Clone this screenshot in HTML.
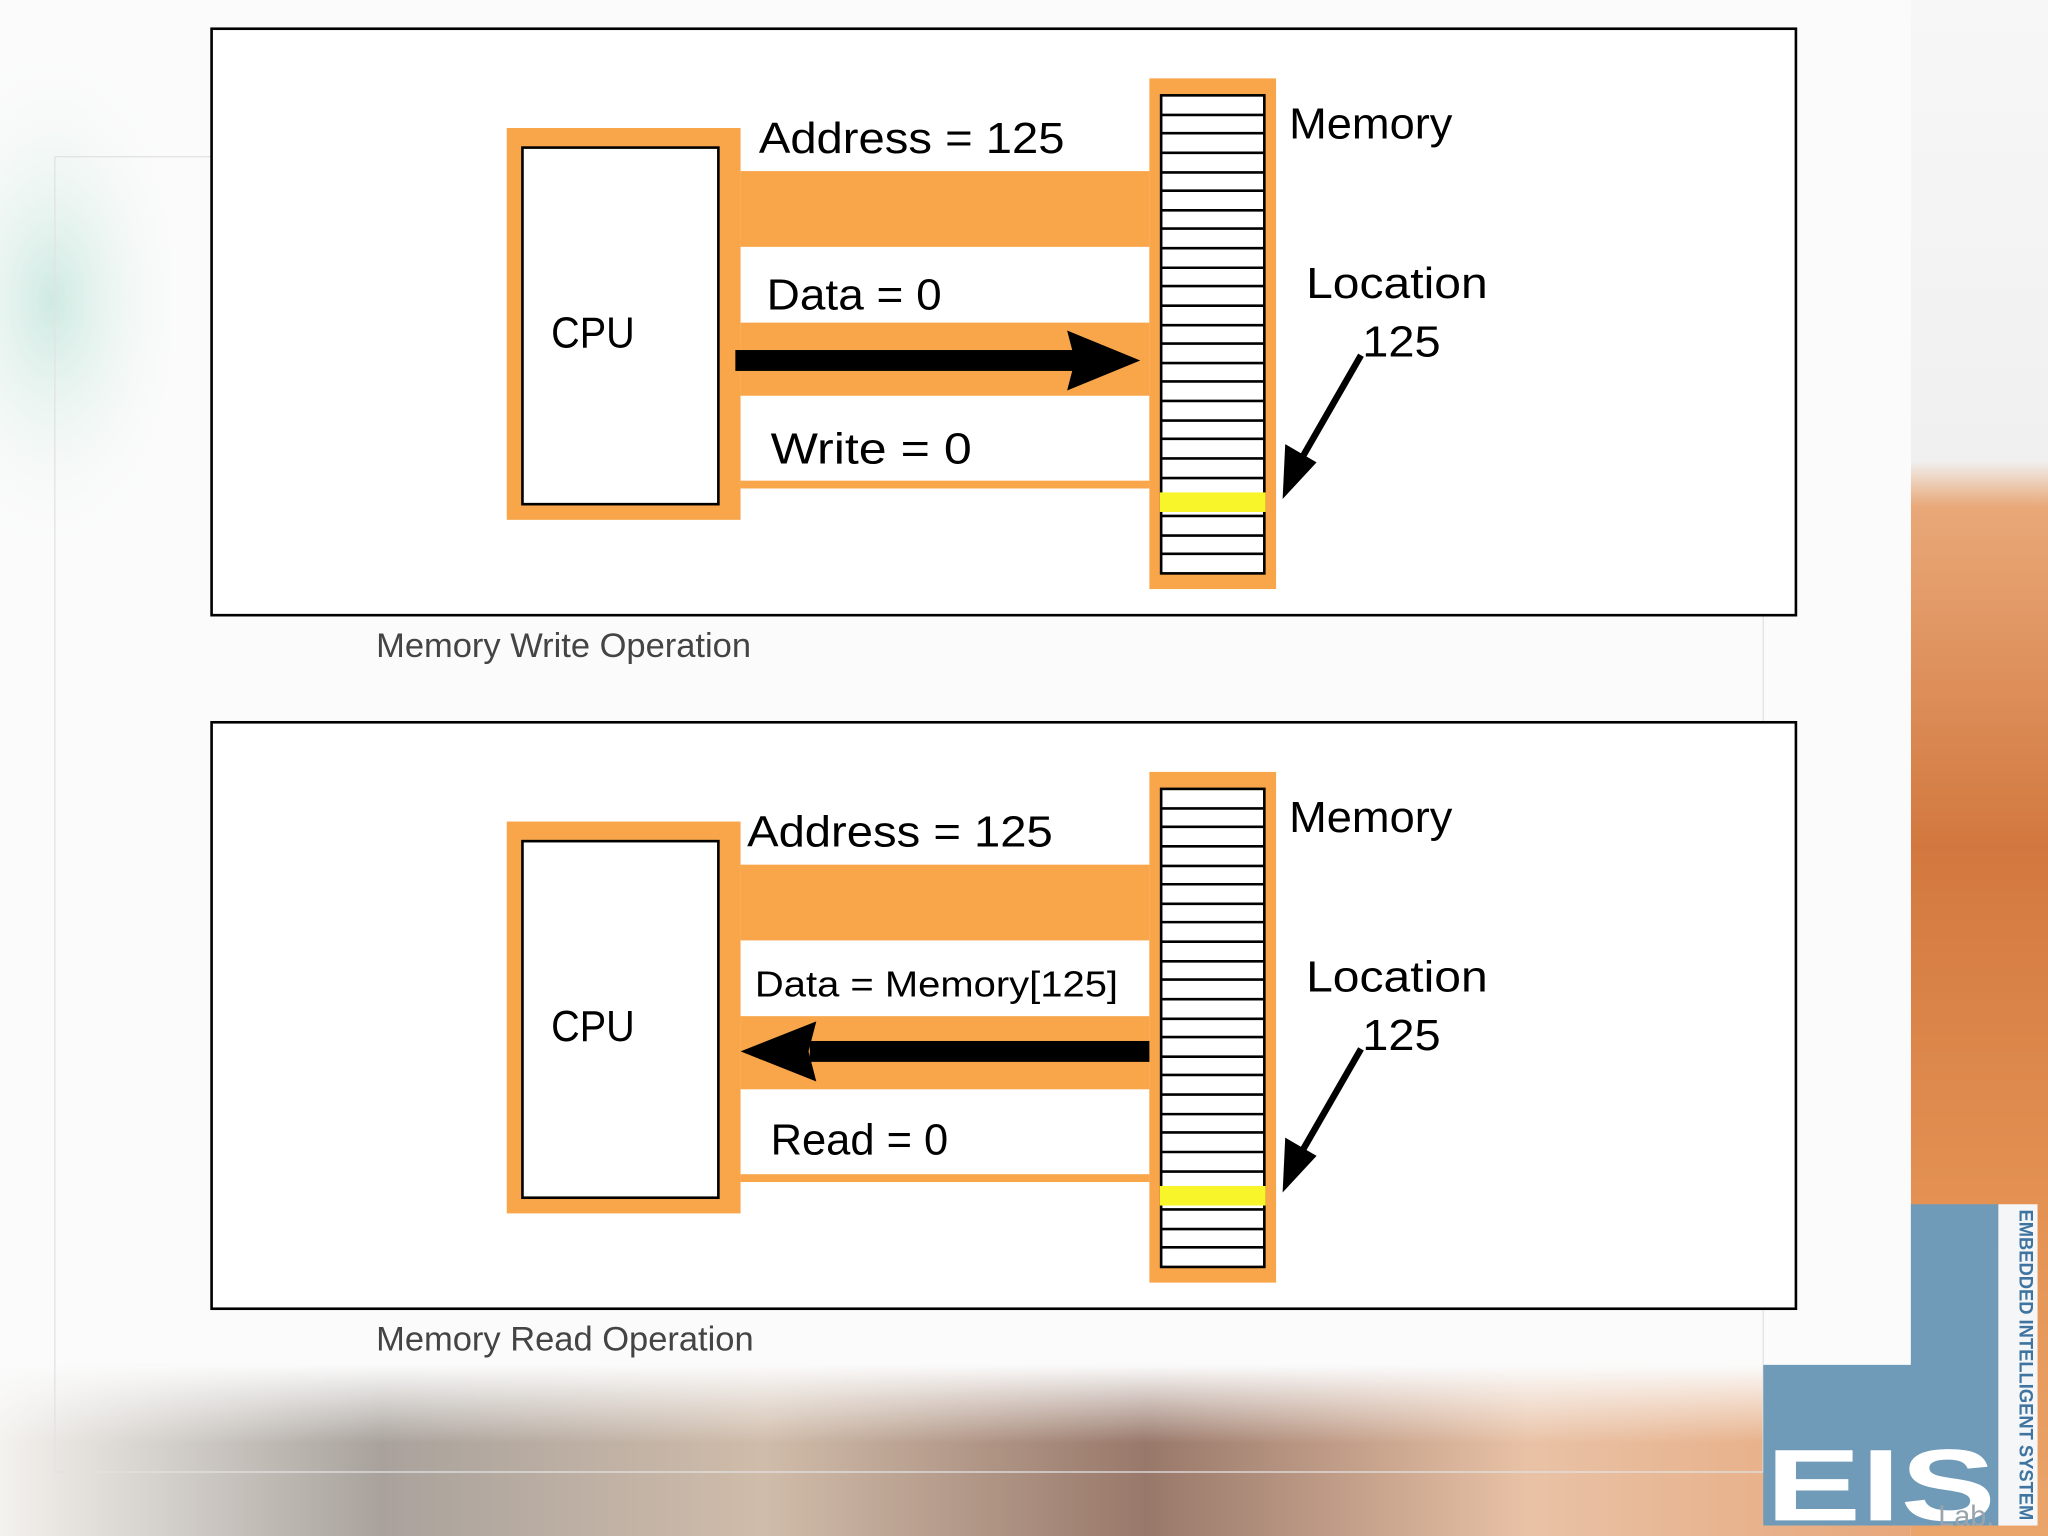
<!DOCTYPE html>
<html><head><meta charset="utf-8"><style>
html,body{margin:0;padding:0;background:#fbfbfb;}
svg{display:block;}
text{font-family:"Liberation Sans","DejaVu Sans",sans-serif;}
</style></head><body>
<svg width="2048" height="1536" viewBox="0 0 1568 1176" xmlns="http://www.w3.org/2000/svg">
<defs>
<radialGradient id="teal" cx="0.5" cy="0.5" r="0.5">
<stop offset="0" stop-color="#c9e8df" stop-opacity="0.9"/><stop offset="1" stop-color="#fbfbfb" stop-opacity="0"/></radialGradient>
<linearGradient id="rightg" x1="0" y1="0" x2="0" y2="1">
<stop offset="0" stop-color="#f7f7f7"/><stop offset="0.3" stop-color="#f0f0f0"/><stop offset="0.33" stop-color="#e9a878"/><stop offset="0.55" stop-color="#d2783f"/><stop offset="0.8" stop-color="#e59355"/><stop offset="1" stop-color="#eaa56b"/></linearGradient>
<linearGradient id="botg" x1="0" y1="0" x2="1" y2="0">
<stop offset="0" stop-color="#f4f2ee"/><stop offset="0.2" stop-color="#a9a29c"/><stop offset="0.4" stop-color="#d0bcaa"/><stop offset="0.6" stop-color="#98786a"/><stop offset="0.8" stop-color="#e9c2a6"/><stop offset="1" stop-color="#e7a77a"/></linearGradient>
<linearGradient id="botv" x1="0" y1="0" x2="0" y2="1">
<stop offset="0" stop-color="#fbfbfb" stop-opacity="1"/><stop offset="1" stop-color="#fbfbfb" stop-opacity="0"/></linearGradient>
</defs>
<rect width="1568" height="1176" fill="#fbfbfb"/>
<ellipse cx="40" cy="230" rx="110" ry="200" fill="url(#teal)"/>
<rect x="1463" y="0" width="105" height="1176" fill="url(#rightg)"/>
<rect x="0" y="1045" width="1463" height="131" fill="url(#botg)"/>
<rect x="0" y="1045" width="1463" height="60" fill="url(#botv)"/>
<rect x="130" y="0" width="1333" height="1045" fill="#fbfbfb"/>
<rect x="42" y="120" width="1308" height="1007" fill="none" stroke="#e2e2e2" stroke-width="1"/>

<!-- Logo -->
<path d="M1463 922 H1530 V1168 H1350 V1045 H1463 Z" fill="#6f9bb8"/>
<rect x="1530" y="922" width="30" height="246" fill="#f4f6f8"/>
<text transform="translate(1546,926) rotate(90)" font-size="15" font-weight="bold" fill="#3f74a0" textLength="238" lengthAdjust="spacingAndGlyphs">EMBEDDED INTELLIGENT SYSTEM</text>
<text x="1352" y="1164" font-size="78" font-weight="bold" fill="#ffffff" textLength="176" lengthAdjust="spacingAndGlyphs">EIS</text>
<text x="1484" y="1168" font-size="22" fill="#9aa4ac" font-family="Liberation Serif">Lab.</text>

<g id="d1">
<rect x="162" y="22" width="1213" height="449" fill="#fff" stroke="#000" stroke-width="2"/>
<rect x="388" y="98" width="179" height="300" fill="#f9a64b"/>
<rect x="400" y="113" width="150" height="273" fill="#fff" stroke="#000" stroke-width="2"/>
<text x="422" y="266" font-size="33" textLength="64" lengthAdjust="spacingAndGlyphs">CPU</text>
<rect x="567" y="131" width="313" height="243" fill="#f9a64b"/>
<rect x="567" y="189" width="313" height="58" fill="#fff"/>
<rect x="567" y="303" width="313" height="65" fill="#fff"/>
<rect x="880" y="60" width="97" height="391" fill="#f9a64b"/>
<rect x="889" y="73" width="79" height="366" fill="#fff" stroke="#000" stroke-width="2"/>
<g stroke="#000" stroke-width="2">
<line x1="889" y1="88" x2="968" y2="88"/><line x1="889" y1="102" x2="968" y2="102"/><line x1="889" y1="117" x2="968" y2="117"/><line x1="889" y1="132" x2="968" y2="132"/><line x1="889" y1="146" x2="968" y2="146"/><line x1="889" y1="161" x2="968" y2="161"/><line x1="889" y1="175" x2="968" y2="175"/><line x1="889" y1="190" x2="968" y2="190"/><line x1="889" y1="205" x2="968" y2="205"/><line x1="889" y1="219" x2="968" y2="219"/><line x1="889" y1="234" x2="968" y2="234"/><line x1="889" y1="249" x2="968" y2="249"/><line x1="889" y1="263" x2="968" y2="263"/><line x1="889" y1="278" x2="968" y2="278"/><line x1="889" y1="292" x2="968" y2="292"/><line x1="889" y1="307" x2="968" y2="307"/><line x1="889" y1="322" x2="968" y2="322"/><line x1="889" y1="336" x2="968" y2="336"/><line x1="889" y1="351" x2="968" y2="351"/><line x1="889" y1="366" x2="968" y2="366"/><line x1="889" y1="395" x2="968" y2="395"/><line x1="889" y1="410" x2="968" y2="410"/><line x1="889" y1="424" x2="968" y2="424"/>
</g>
<rect x="888" y="377" width="81" height="15" fill="#f8f52a"/>
<text x="987" y="106" font-size="33" textLength="125" lengthAdjust="spacingAndGlyphs">Memory</text>
<text x="1000" y="228" font-size="33" textLength="139" lengthAdjust="spacingAndGlyphs">Location</text>
<text x="1043" y="273" font-size="33" textLength="60" lengthAdjust="spacingAndGlyphs">125</text>
<line x1="1042" y1="272" x2="996" y2="352" stroke="#000" stroke-width="5"/>
<polygon points="982,382 984,340 1008,354" fill="#000"/>
</g>
<text x="581" y="117" font-size="33" textLength="234" lengthAdjust="spacingAndGlyphs">Address = 125</text>
<text x="587" y="237" font-size="33" textLength="134" lengthAdjust="spacingAndGlyphs">Data = 0</text>
<text x="590" y="355" font-size="33" textLength="154" lengthAdjust="spacingAndGlyphs">Write = 0</text>
<rect x="563" y="268" width="260" height="16" fill="#000"/>
<polygon points="873,276 817,253 823,276 817,299" fill="#000"/>
<text x="288" y="503" font-size="26" fill="#444" textLength="287" lengthAdjust="spacingAndGlyphs">Memory Write Operation</text>

<use href="#d1" transform="translate(0,531)"/>
<text x="572" y="648" font-size="33" textLength="234" lengthAdjust="spacingAndGlyphs">Address = 125</text>
<text x="578" y="763" font-size="28" textLength="278" lengthAdjust="spacingAndGlyphs">Data = Memory[125]</text>
<text x="590" y="884" font-size="33" textLength="136" lengthAdjust="spacingAndGlyphs">Read = 0</text>
<rect x="620" y="797" width="260" height="16" fill="#000"/>
<polygon points="567,805 625,782 619,805 625,828" fill="#000"/>
<text x="288" y="1034" font-size="26" fill="#444" textLength="289" lengthAdjust="spacingAndGlyphs">Memory Read Operation</text>
</svg>
</body></html>
